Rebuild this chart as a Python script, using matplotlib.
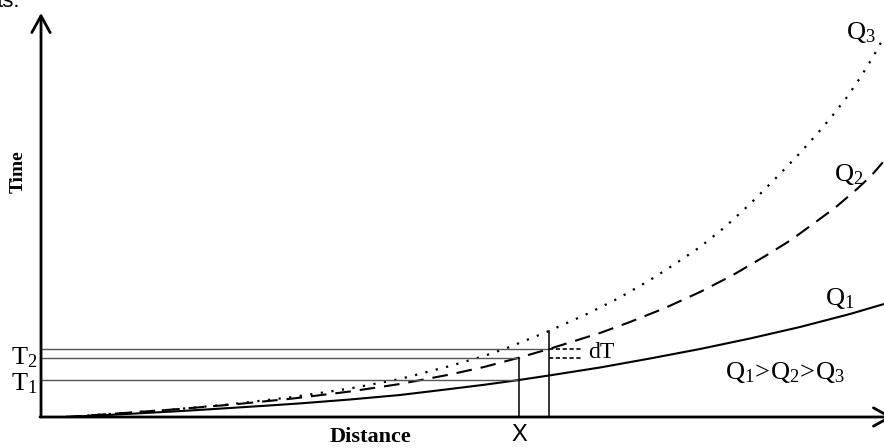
import matplotlib
matplotlib.use("Agg")
import matplotlib.pyplot as plt

plt.rcParams['font.family'] = ['Liberation Serif', 'DejaVu Serif']
plt.rcParams['mathtext.fontset'] = 'custom'
plt.rcParams['mathtext.rm'] = 'Liberation Serif'
plt.rcParams['mathtext.it'] = 'Liberation Serif:italic'

# distance / time samples for the three discharge curves
q1_dist = [25, 50, 76, 104, 132, 162, 192, 225, 259, 309, 359, 409, 443, 478, 508,
           559, 609, 659, 709, 759, 809, 843]
q1_time = [0, 1.2, 2.5, 4, 5.5, 7.3, 9.2, 11.3, 13.6, 17.5, 22, 28, 32.2, 37, 41.5,
           49.5, 58.5, 68, 78.5, 90, 103, 113]

q2_dist = [25, 76, 132, 192, 252, 309, 359, 409, 443, 478, 508, 559, 589, 624, 659,
           692, 726, 750, 772, 795, 816, 830, 843]
q2_time = [0, 3.5, 7.5, 12.5, 18.5, 25.5, 33, 42.5, 50, 59.3, 68, 84, 95, 109, 125,
           142, 162, 177, 193, 210, 228, 241, 256]

q3_dist = [25, 76, 132, 192, 252, 309, 359, 409, 443, 466, 508, 546, 578, 609, 634,
           659, 684, 709, 734, 759, 776, 792, 806, 819, 832, 843]
q3_time = [0, 3.5, 7.5, 13, 20, 28.5, 38, 51, 61, 69, 86, 103, 119, 137, 153,
           170, 190, 213, 238, 264, 283, 302, 320, 339, 360, 380]

# reading position X and the step X + dX
x_pos = 478
x_step = 508
t1 = 37       # Q1 at X
t2 = 59.3     # Q2 at X
t2_step = 68  # Q2 at X + dX
t_top = 86    # Q3 at X + dX

fig = plt.figure(figsize=(8.84, 4.48), dpi=100)
ax = fig.add_axes([0, 0, 1, 1])
ax.set_xlim(-41, 843)
ax.set_ylim(-31, 417)
ax.axis('off')

# axes with open arrow heads
arrow = dict(arrowstyle='->,head_length=0.6,head_width=0.33', lw=2.0,
             color='black', mutation_scale=20, shrinkA=0, shrinkB=0)
ax.annotate('', xy=(0, 404), xytext=(0, 0), arrowprops=arrow)
ax.annotate('', xy=(852, 0), xytext=(-1, 0), arrowprops=arrow,
            annotation_clip=False)

# curves
ax.plot(q1_dist, q1_time, color='black', lw=1.5, solid_capstyle='butt')
ax.plot(q2_dist, q2_time, color='black', lw=1.5, linestyle=(0, (7.5, 4.3)))
ax.plot(q3_dist, q3_time, color='black', lw=1.6, linestyle=(0, (1.0, 3.8)))

# guide lines
ax.plot([0, x_step], [t2_step, t2_step], color='#555555', lw=1.0)
ax.plot([0, x_pos], [t2, t2], color='#555555', lw=1.0)
ax.plot([0, x_pos], [t1, t1], color='#555555', lw=1.0)
ax.plot([x_pos, x_pos], [0, t2], color='black', lw=1.1)
ax.plot([x_step, x_step], [0, t_top], color='black', lw=1.1)
ax.plot([x_step, 542], [t2_step, t2_step], color='black', lw=1.2, linestyle=(0, (2.5, 1.6)))
ax.plot([x_step, 542], [t2, t2], color='black', lw=1.2, linestyle=(0, (2.5, 1.6)))

# labels
ax.text(547, 65, 'dT', fontsize=17, ha='left', va='center')
ax.text(-17, 59, r'$\mathrm{T_2}$', fontsize=19, ha='center', va='center')
ax.text(-17, 33, r'$\mathrm{T_1}$', fontsize=19, ha='center', va='center')
ax.text(820, 385, r'$\mathrm{Q_3}$', fontsize=19, ha='center', va='center')
ax.text(808, 243, r'$\mathrm{Q_2}$', fontsize=19, ha='center', va='center')
ax.text(799, 119, r'$\mathrm{Q_1}$', fontsize=19, ha='center', va='center')
ax.text(744, 45, r'$\mathrm{Q_1\!>\!Q_2\!>\!Q_3}$', fontsize=19, ha='center', va='center')
ax.text(-23, 245, 'Time', fontsize=14, fontweight='bold', rotation=90,
        ha='center', va='center')
ax.text(329, -20, 'Distance', fontsize=16, fontweight='bold', ha='center', va='center')
ax.text(478, -18, 'X', fontsize=17, family='Liberation Sans', ha='center', va='center')
ax.text(-44, 410, 'ts.', fontsize=16, family='Liberation Sans', ha='left', va='baseline')

fig.savefig('out.png', dpi=100)
